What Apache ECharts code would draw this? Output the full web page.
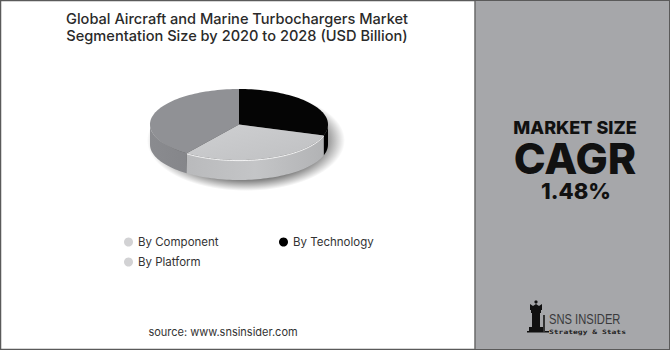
<!DOCTYPE html>
<html><head><meta charset="utf-8">
<script src="https://cdn.jsdelivr.net/npm/echarts@6/dist/echarts.min.js"></script>
<style>html,body{margin:0;padding:0;background:#fff}#c{width:670px;height:350px}</style>
</head><body><div id="c"></div>
<script>
// ---- data (slice order: clockwise from 12 o'clock) ----
const categories = ['By Technology', 'By Platform', 'By Component'];
const values = [30, 30, 40];
const legendOrder = ['By Component', 'By Technology', 'By Platform'];
const titleLines = ['Global Aircraft and Marine Turbochargers Market', 'Segmentation Size by 2020 to 2028 (USD Billion)'];
const cagrLabel = 'MARKET SIZE';
const cagrWord = 'CAGR';
const cagrValue = '1.48%';
const sourceText = 'source: www.snsinsider.com';

// ---- styles ----
const topColors = {
  'By Technology': '#050505',
  'By Platform': {type:'linear',x:0,y:0,x2:1,y2:1,colorStops:[{offset:0,color:'#cfd0d2'},{offset:1,color:'#bfc0c2'}]},
  'By Component': '#909195'
};
const sideColors = {
  'By Technology': '#000000',
  'By Platform': {type:'linear',x:0,y:0,x2:1,y2:0,colorStops:[{offset:0,color:'#b9babc'},{offset:0.5,color:'#c4c5c7'},{offset:1,color:'#b2b3b5'}]},
  'By Component': {type:'linear',x:0,y:0,x2:1,y2:0,colorStops:[{offset:0,color:'#8a8b8f'},{offset:1,color:'#85868a'}]}
};
const legendColors = {'By Component':'#d2d2d4','By Technology':'#000','By Platform':'#d2d2d4'};
const PIE = {cx: 239, cy: 124.5, rx: 89, ry: 35.5, depth: 20};

const total = values.reduce((a,b)=>a+b,0);
function sliceAngles(i){
  let cum = 0; for (let k=0;k<i;k++) cum += values[k];
  const a0 = 90 - 360*cum/total;
  const a1 = 90 - 360*(cum+values[i])/total;
  return [a0, a1];
}
function pt(t, dy){
  const r = t*Math.PI/180;
  return [PIE.cx + PIE.rx*Math.cos(r), PIE.cy - PIE.ry*Math.sin(r) + (dy||0)];
}
function arc(from, to, dy){ // from > to (clockwise)
  const pts=[]; const n = Math.max(2, Math.ceil((from-to)/2));
  for(let j=0;j<=n;j++){ pts.push(pt(from - (from-to)*j/n, dy)); }
  return pts;
}
function renderSlice(i){
  return function(params, api){
    const name = categories[i];
    const [a0, a1] = sliceAngles(i);
    const children = [];
    if (i === 0) {
      children.push({type:'ellipse', shape:{cx:PIE.cx+7, cy:PIE.cy+16, rx:PIE.rx+10, ry:PIE.ry+15},
        style:{fill:{type:'radial',x:0.5,y:0.5,r:0.5,colorStops:[{offset:0.72,color:'rgba(0,0,0,0.65)'},{offset:1,color:'rgba(0,0,0,0)'}]}}});
    }
    // front side portions: angles within [-180,0] modulo 360
    [[-180,0],[-540,-360],[180,360]].forEach(([lo,hi])=>{
      const f = Math.min(a0, hi), t = Math.max(a1, lo);
      if (f > t) {
        const topArc = arc(f, t, 0);
        const botArc = arc(f, t, PIE.depth).reverse();
        children.push({type:'polygon', shape:{points: topArc.concat(botArc)}, style:{fill: sideColors[name]}});
      }
    });
    const topPts = [[PIE.cx, PIE.cy]].concat(arc(a0, a1, 0));
    children.push({type:'polygon', shape:{points: topPts}, style:{fill: topColors[name]}});
    if (name === 'By Platform') {
      const f = Math.min(a0, 0), t = Math.max(a1, -180);
      children.push({type:'polyline', shape:{points: arc(f, t, 0.6)}, style:{stroke:'rgba(255,255,255,0.8)', lineWidth:1, fill:null}});
    }
    return {type:'group', children};
  };
}

const chart = echarts.init(document.getElementById('c'), null, {renderer:'svg'});
const series = categories.map((name, i) => ({
  type:'custom', name, coordinateSystem:'none', data:[[values[i]]],
  itemStyle:{color: legendColors[name]}, renderItem: renderSlice(i), silent:true, animation:false
}));
const legendPos = {'By Component':[119,231], 'By Technology':[274,231], 'By Platform':[119,251]};
const legends = legendOrder.map(name => ({
  data:[{name, icon:'circle', itemStyle:{color: legendColors[name]}}],
  left: legendPos[name][0], top: legendPos[name][1], itemWidth:9, itemHeight:9, itemGap:0,
  textStyle:{fontFamily:'Inter', fontSize:11.5, color:'#333'}, selectedMode:false
}));

chart.setOption({
  animation:false,
  legend: legends,
  series,
  graphic: [
    {type:'rect', shape:{x:0.5,y:0.5,width:669,height:349}, style:{fill:'#fff', stroke:'#5a5a5a', lineWidth:1.5}, z:-10},
    {type:'rect', shape:{x:475,y:1,width:194,height:348}, style:{fill:'#a6a7aa'}, z:-9},
    {type:'line', shape:{x1:475,y1:1,x2:475,y2:349}, style:{stroke:'#6a6a6a', lineWidth:1.5}, z:-8},
    {type:'text', x:237, y:18.5, style:{text:titleLines[0], font:'500 14.6px Inter', fill:'#2a2a2a', align:'center', verticalAlign:'middle', lineHeight:15}},
    {type:'text', x:237, y:36, style:{text:titleLines[1], font:'500 14.6px Inter', fill:'#2a2a2a', align:'center', verticalAlign:'middle', lineHeight:15}},
    {type:'text', x:223, y:332, style:{text:sourceText, font:'11px Inter', fill:'#333', align:'center', verticalAlign:'middle'}},
    {type:'text', x:575, y:127, style:{text:cagrLabel, font:'800 18px Inter', fill:'#111', align:'center', verticalAlign:'middle', lineHeight:14}},
    {type:'text', x:575, y:157.5, style:{text:cagrWord, font:'800 43px Inter', fill:'#111', align:'center', verticalAlign:'middle', lineHeight:32}},
    {type:'text', x:576, y:191, style:{text:cagrValue, font:'800 22px Inter', fill:'#111', align:'center', verticalAlign:'middle', lineHeight:17}},
    // logo
    {type:'group', x:527, y:300, children:[
      {type:'circle', shape:{cx:9, cy:2, r:1.6}, style:{fill:'#111'}},
      {type:'polygon', shape:{points:[[3,4],[6,6],[9,4],[12,6],[15,4],[15,10],[3,10]]}, style:{fill:'#111'}},
      {type:'rect', shape:{x:4,y:10,width:10,height:3}, style:{fill:'#111'}},
      {type:'rect', shape:{x:5,y:13,width:8,height:14}, style:{fill:'#111'}},
      {type:'rect', shape:{x:2,y:27,width:14,height:4}, style:{fill:'#111'}},
      {type:'rect', shape:{x:0,y:31,width:22,height:1.5}, style:{fill:'#111'}},
      {type:'rect', shape:{x:16,y:15,width:2,height:17}, style:{fill:'#333'}}
    ]},
    {type:'text', x:549, y:320, scaleX:0.8, style:{text:'SNS INSIDER', font:'300 14px "Liberation Sans", sans-serif', fill:'#3a3a3c', align:'left', verticalAlign:'middle', lineHeight:11}},
    {type:'text', x:549, y:332, scaleY:0.75, style:{text:'Strategy & Stats', font:'bold 8px "DejaVu Sans Mono", monospace', fill:'#222', align:'left', verticalAlign:'middle', lineHeight:6}}
  ]
});
</script></body></html>
